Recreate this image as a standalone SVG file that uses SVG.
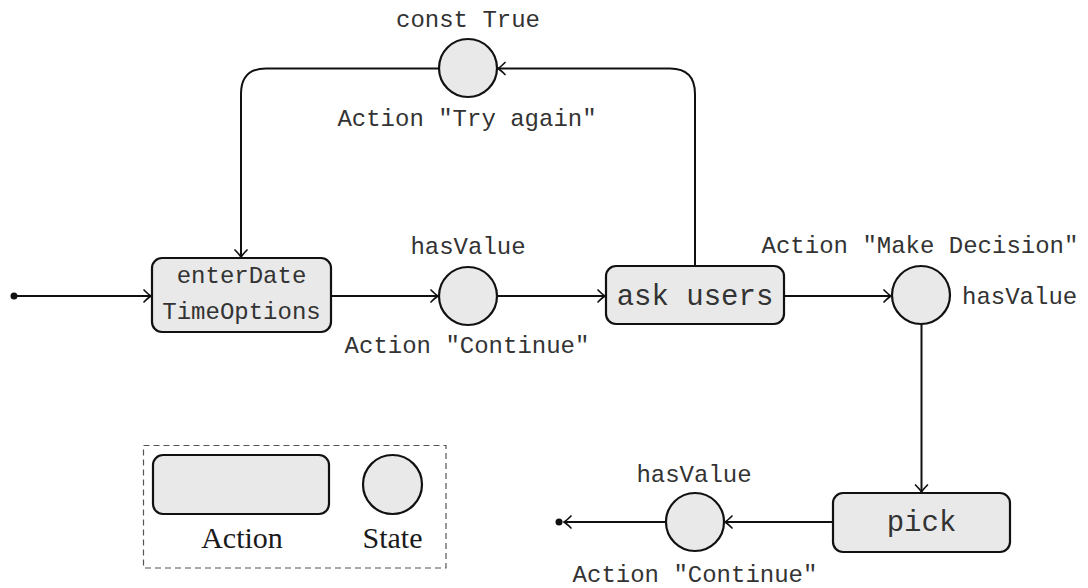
<svg xmlns="http://www.w3.org/2000/svg" width="1088" height="588" viewBox="0 0 1088 588">
<style>
.box{fill:#e9e9e9;stroke:#111;stroke-width:2.2}
.st{fill:#e9e9e9;stroke:#111;stroke-width:2.2}
.ln{fill:none;stroke:#111;stroke-width:2}
.mono{font-family:"Liberation Mono","Courier New",monospace;fill:#333}
.lbl{font-size:24px}
.big{font-size:29px}
.ser{font-family:"Liberation Serif","Times New Roman",serif;font-size:30px;fill:#1a1a1a}
</style>
<defs>
<marker id="arr" markerUnits="userSpaceOnUse" viewBox="-10 -8 12 16" refX="0" refY="0" markerWidth="12" markerHeight="16" orient="auto" overflow="visible">
<path d="M-7,-6 Q-2.5,-1.5 0,0 Q-2.5,1.5 -7,6" fill="none" stroke="#111" stroke-width="1.7" stroke-linecap="round"/>
</marker>
</defs>
<g id="connectors">
<circle cx="14" cy="296" r="3.5" fill="#111"/>
<path class="ln" d="M14,296 H151" marker-end="url(#arr)"/>
<path class="ln" d="M331,296 H438" marker-end="url(#arr)"/>
<path class="ln" d="M497,296 H605" marker-end="url(#arr)"/>
<path class="ln" d="M784,296 H891" marker-end="url(#arr)"/>
<path class="ln" d="M921.5,324 V492" marker-end="url(#arr)"/>
<path class="ln" d="M833,522 H725" marker-end="url(#arr)"/>
<path class="ln" d="M666,522 H564" marker-end="url(#arr)"/>
<circle cx="559" cy="522" r="3.5" fill="#111"/>
<path class="ln" d="M695,266 V94 Q695,68.5 670,68.5 H498" marker-end="url(#arr)"/>
<path class="ln" d="M439,68.5 H266 Q241,68.5 241,94 V257" marker-end="url(#arr)"/>
</g>
<g id="enterDateTimeOptions">
<rect class="box" x="152" y="258" width="179" height="74" rx="10"/>
<text class="mono lbl" x="241.5" y="283" text-anchor="middle">enterDate</text>
<text class="mono lbl" x="241.5" y="319" text-anchor="middle">TimeOptions</text>
</g>
<g id="state1">
<circle class="st" cx="468" cy="296" r="29"/>
<text class="mono lbl" x="468" y="254" text-anchor="middle">hasValue</text>
<text class="mono lbl" x="467" y="353" text-anchor="middle">Action "Continue"</text>
</g>
<g id="askUsers">
<rect class="box" x="606" y="266" width="178" height="58" rx="10"/>
<text class="mono big" x="695" y="305" text-anchor="middle">ask users</text>
</g>
<g id="state2">
<circle class="st" cx="921" cy="295" r="29"/>
<text class="mono lbl" x="920" y="253" text-anchor="middle">Action "Make Decision"</text>
<text class="mono lbl" x="962" y="304">hasValue</text>
</g>
<g id="stateTry">
<circle class="st" cx="468" cy="68" r="29"/>
<text class="mono lbl" x="468" y="27" text-anchor="middle">const True</text>
<text class="mono lbl" x="467" y="126" text-anchor="middle">Action "Try again"</text>
</g>
<g id="pick">
<rect class="box" x="833" y="493" width="177" height="59" rx="10"/>
<text class="mono big" x="921.5" y="531" text-anchor="middle">pick</text>
</g>
<g id="state3">
<circle class="st" cx="695" cy="522" r="29"/>
<text class="mono lbl" x="694" y="482" text-anchor="middle">hasValue</text>
<text class="mono lbl" x="695" y="582" text-anchor="middle">Action "Continue"</text>
</g>
<g id="legend">
<rect x="143.5" y="445.5" width="302.5" height="122.5" fill="none" stroke="#555" stroke-width="1.2" stroke-dasharray="6,4"/>
<rect class="box" x="153" y="455" width="176" height="59" rx="10"/>
<circle class="st" cx="392.5" cy="484.5" r="29.5"/>
<text class="ser" x="242" y="548" text-anchor="middle">Action</text>
<text class="ser" x="392.5" y="548" text-anchor="middle">State</text>
</g>
</svg>
